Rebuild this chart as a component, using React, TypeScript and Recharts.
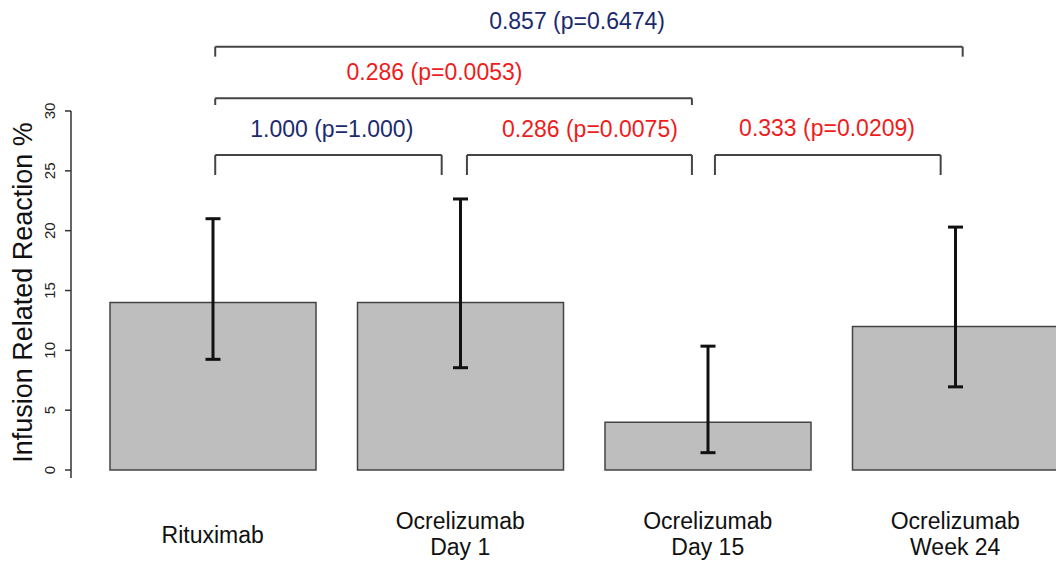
import { BarChart, Bar, XAxis, YAxis, ErrorBar, ReferenceLine, ReferenceDot } from 'recharts';

const categories = ['Rituximab', 'Ocrelizumab\nDay 1', 'Ocrelizumab\nDay 15', 'Ocrelizumab\nWeek 24'];
const irrPct = [14, 14, 4, 12];
const ciLower = [9.25, 8.55, 1.45, 6.95];
const ciUpper = [21.0, 22.65, 10.35, 20.3];
const yTicks = [0, 5, 10, 15, 20, 25, 30];

// comparison brackets, x in band units (bar i sits at i + 0.5), y in %
const bracketStart = [0.51, 1.527, 2.529, 0.51, 0.51];
const bracketEnd = [1.425, 2.436, 3.441, 2.436, 3.53];
const bracketTop = [26.32, 26.32, 26.32, 31.06, 35.37];
const bracketFoot = [24.65, 24.65, 24.65, 30.5, 34.54];
const bracketText = ['1.000 (p=1.000)', '0.286 (p=0.0075)', '0.333 (p=0.0209)', '0.286 (p=0.0053)', '0.857 (p=0.6474)'];
const bracketTextX = [0.981, 2.024, 2.982, 1.396, 1.972];
const bracketTextY = [28.55, 28.55, 28.6, 33.29, 37.56];
const significant = [false, true, true, true, false];

const FONT = '"Liberation Sans", Arial, sans-serif';
const NAVY = '#1b2a6e';
const RED = '#ee1c1c';

const data = categories.map((name, i) => ({
  name,
  pos: i + 0.5,
  value: irrPct[i],
  err: [irrPct[i] - ciLower[i], ciUpper[i] - irrPct[i]],
}));

const CategoryTick = (props: any) => {
  const { x, y, payload } = props;
  const lines = String(payload.value).split('\n');
  const first = lines.length > 1 ? 51 : 65;
  return (
    <text x={x} y={y} textAnchor="middle" fill="#111" fontSize={23} fontFamily={FONT}>
      {lines.map((l, i) => (
        <tspan key={i} x={x} y={y + first + i * 26}>
          {l}
        </tspan>
      ))}
    </text>
  );
};

const ValueTick = (props: any) => {
  const { x, y, payload } = props;
  const tx = x - 8;
  return (
    <text
      x={tx}
      y={y}
      textAnchor="middle"
      fill="#222"
      fontSize={15}
      fontFamily={FONT}
      transform={`rotate(-90, ${tx}, ${y})`}
    >
      {payload.value}
    </text>
  );
};

export default function App() {
  return (
    <div style={{ position: 'absolute', left: 0, top: 0, width: 1056, height: 561, overflow: 'hidden', background: '#fff' }}>
      <BarChart width={1080} height={561} data={data} margin={{ top: 111, right: 1, bottom: 0, left: 0 }}>
        <XAxis
          dataKey="name"
          height={83}
          padding={{ left: 18, right: 0 }}
          axisLine={false}
          tickLine={false}
          tickSize={0}
          tickMargin={0}
          interval={0}
          tick={CategoryTick}
        />
        <XAxis
          xAxisId="num"
          dataKey="pos"
          type="number"
          domain={[0, 4]}
          padding={{ left: 18, right: 0 }}
          allowDataOverflow
          hide
        />
        <YAxis
          width={71}
          domain={[-0.667, 30]}
          ticks={yTicks}
          allowDataOverflow
          axisLine={{ stroke: '#333', strokeWidth: 1.5 }}
          tickLine={{ stroke: '#333', strokeWidth: 1.5 }}
          tickSize={6}
          tick={ValueTick}
          label={{
            value: 'Infusion Related Reaction %',
            content: () => (
              <text
                x={31.5}
                y={292.5}
                textAnchor="middle"
                fill="#111"
                fontSize={27}
                fontFamily={FONT}
                transform="rotate(-90, 31.5, 292.5)"
              >
                Infusion Related Reaction %
              </text>
            ),
          }}
        />
        <Bar dataKey="value" fill="#bebebe" stroke="#444" strokeWidth={1.5} barSize={206} isAnimationActive={false}>
          <ErrorBar dataKey="err" width={7.5} strokeWidth={3} stroke="#111" isAnimationActive={false} />
        </Bar>
        {bracketText.map((_, i) => [
          <ReferenceLine
            key={`h${i}`}
            xAxisId="num"
            ifOverflow="visible"
            stroke="#444"
            strokeWidth={2}
            segment={[
              { x: bracketStart[i], y: bracketTop[i] },
              { x: bracketEnd[i], y: bracketTop[i] },
            ]}
          />,
          <ReferenceLine
            key={`l${i}`}
            xAxisId="num"
            ifOverflow="visible"
            stroke="#444"
            strokeWidth={2}
            segment={[
              { x: bracketStart[i], y: bracketTop[i] },
              { x: bracketStart[i], y: bracketFoot[i] },
            ]}
          />,
          <ReferenceLine
            key={`r${i}`}
            xAxisId="num"
            ifOverflow="visible"
            stroke="#444"
            strokeWidth={2}
            segment={[
              { x: bracketEnd[i], y: bracketTop[i] },
              { x: bracketEnd[i], y: bracketFoot[i] },
            ]}
          />,
          <ReferenceDot
            key={`t${i}`}
            xAxisId="num"
            x={bracketTextX[i]}
            y={bracketTextY[i]}
            r={0}
            ifOverflow="visible"
            label={{
              value: bracketText[i],
              position: 'center',
              fill: significant[i] ? RED : NAVY,
              fontSize: 23,
              fontFamily: FONT,
            }}
          />,
        ])}
      </BarChart>
    </div>
  );
}
